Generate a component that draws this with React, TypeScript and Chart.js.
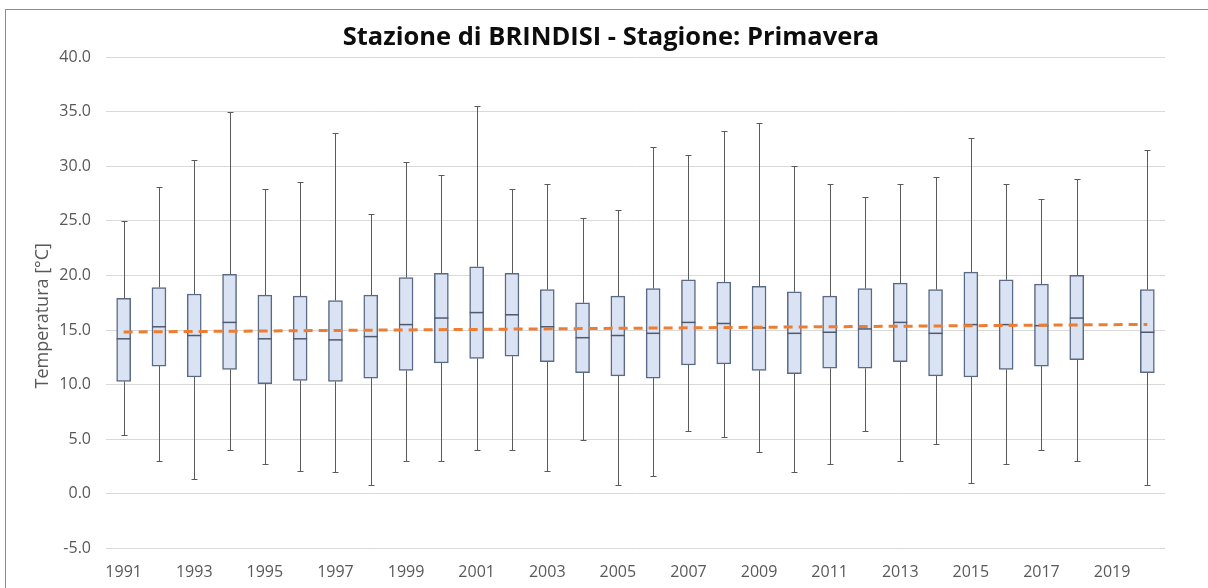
import React, { useEffect, useRef } from "react";
import { Chart, registerables } from "chart.js";

Chart.register(...registerables);

const years = [
  "1991", "1992", "1993", "1994", "1995", "1996", "1997", "1998", "1999", "2000",
  "2001", "2002", "2003", "2004", "2005", "2006", "2007", "2008", "2009", "2010",
  "2011", "2012", "2013", "2014", "2015", "2016", "2017", "2018", "2019", "2020",
];

const minVals = [
  5.4, 3.0, 1.4, 4.0, 2.7, 2.1, 2.0, 0.8, 3.0, 3.0,
  4.0, 4.0, 2.1, 4.9, 0.8, 1.6, 5.8, 5.2, 3.8, 2.0,
  2.7, 5.8, 3.0, 4.6, 1.0, 2.7, 4.0, 3.0, null, 0.8,
];
const q1Vals = [
  10.3, 11.7, 10.7, 11.4, 10.1, 10.4, 10.3, 10.6, 11.3, 12.0,
  12.4, 12.6, 12.1, 11.1, 10.8, 10.6, 11.8, 11.9, 11.3, 11.0,
  11.5, 11.5, 12.1, 10.8, 10.7, 11.4, 11.7, 12.3, null, 11.1,
];
const medianVals = [
  14.2, 15.3, 14.5, 15.7, 14.2, 14.2, 14.1, 14.4, 15.5, 16.1,
  16.6, 16.4, 15.3, 14.3, 14.5, 14.7, 15.7, 15.6, 15.2, 14.7,
  14.8, 15.1, 15.7, 14.7, 15.5, 15.5, 15.4, 16.1, null, 14.8,
];
const q3Vals = [
  17.9, 18.9, 18.3, 20.1, 18.2, 18.1, 17.7, 18.2, 19.8, 20.2,
  20.8, 20.2, 18.7, 17.5, 18.1, 18.8, 19.6, 19.4, 19.0, 18.5,
  18.1, 18.8, 19.3, 18.7, 20.3, 19.6, 19.2, 20.0, null, 18.7,
];
const maxVals = [
  25.0, 28.1, 30.6, 35.0, 27.9, 28.6, 33.0, 25.6, 30.4, 29.2,
  35.5, 27.9, 28.4, 25.3, 26.0, 31.8, 31.0, 33.2, 34.0, 30.0,
  28.4, 27.2, 28.4, 29.0, 32.6, 28.4, 27.0, 28.8, null, 31.5,
];

const trendStart = 14.82;
const trendEnd = 15.52;

const yTicks = [-5, 0, 5, 10, 15, 20, 25, 30, 35, 40];

const TITLE = "Stazione di BRINDISI - Stagione: Primavera";
const Y_TITLE = "Temperatura [°C]";
const BOX_W = 14;
const CAP_W = 6;

const boxPlugin = {
  id: "boxWhiskers",
  beforeDatasetsDraw(chart: any) {
    const { ctx, scales } = chart;
    const x = scales.x;
    const y = scales.y;
    ctx.save();
    ctx.strokeStyle = "#5a5a5a";
    ctx.lineWidth = 1;
    years.forEach((_, i) => {
      const mn = minVals[i];
      const mx = maxVals[i];
      const a = q1Vals[i];
      const b = q3Vals[i];
      if (mn == null || mx == null || a == null || b == null) return;
      const cx = Math.round(x.getPixelForValue(i)) + 0.5;
      const yMin = Math.round(y.getPixelForValue(mn)) + 0.5;
      const yMax = Math.round(y.getPixelForValue(mx)) + 0.5;
      const yQ1 = y.getPixelForValue(a);
      const yQ3 = y.getPixelForValue(b);
      ctx.beginPath();
      ctx.moveTo(cx, yMax);
      ctx.lineTo(cx, yQ3);
      ctx.moveTo(cx, yQ1);
      ctx.lineTo(cx, yMin);
      ctx.moveTo(cx - CAP_W / 2, yMax);
      ctx.lineTo(cx + CAP_W / 2, yMax);
      ctx.moveTo(cx - CAP_W / 2, yMin);
      ctx.lineTo(cx + CAP_W / 2, yMin);
      ctx.stroke();
    });
    ctx.restore();
  },
  afterDatasetDraw(chart: any, args: any) {
    if (args.index !== 1) return;
    const { ctx, scales } = chart;
    const x = scales.x;
    const y = scales.y;
    ctx.save();
    ctx.strokeStyle = "#4d5a70";
    ctx.lineWidth = 1.5;
    years.forEach((_, i) => {
      const m = medianVals[i];
      if (m == null) return;
      const cx = x.getPixelForValue(i);
      const ym = y.getPixelForValue(m);
      ctx.beginPath();
      ctx.moveTo(cx - BOX_W / 2, ym);
      ctx.lineTo(cx + BOX_W / 2, ym);
      ctx.stroke();
    });
    ctx.restore();
  },
  afterDraw(chart: any) {
    const { ctx, chartArea } = chart;
    ctx.save();
    ctx.fillStyle = "#595959";
    ctx.font = "18px 'Open Sans'";
    ctx.textAlign = "center";
    ctx.textBaseline = "middle";
    ctx.translate(37, (chartArea.top + chartArea.bottom) / 2 + 13);
    ctx.rotate(-Math.PI / 2);
    ctx.fillText(Y_TITLE, 0, 0);
    ctx.restore();
  },
};

export default function App() {
  const canvasRef = useRef<HTMLCanvasElement | null>(null);

  useEffect(() => {
    if (!canvasRef.current) return;
    const trendData = years.map((_, i) =>
      i === 0 ? trendStart : i === years.length - 1 ? trendEnd : null
    );
    const boxData = years.map((_, i) =>
      q1Vals[i] == null || q3Vals[i] == null ? null : [q1Vals[i], q3Vals[i]]
    );
    const chart = new Chart(canvasRef.current, {
      type: "bar",
      data: {
        labels: years,
        datasets: [
          {
            type: "line",
            label: "Trend",
            data: trendData as any,
            borderColor: "#ED7D31",
            borderWidth: 3,
            borderDash: [9, 6],
            pointRadius: 0,
            spanGaps: true,
            fill: false,
          } as any,
          {
            type: "bar",
            label: "Box",
            data: boxData as any,
            backgroundColor: "#DAE3F3",
            borderColor: "#5B6A84",
            borderWidth: 1.5,
            borderSkipped: false,
            barThickness: BOX_W,
          } as any,
        ],
      },
      options: {
        animation: false,
        responsive: false,
        maintainAspectRatio: false,
        layout: { padding: { left: 51, right: 51, top: 0, bottom: 0 } },
        plugins: {
          legend: { display: false },
          tooltip: { enabled: false },
          title: {
            display: true,
            text: TITLE,
            color: "#0d0d0d",
            font: { family: "'Open Sans'", size: 25.5, weight: "bold", lineHeight: 1.2 },
            padding: { top: 12.7, bottom: 3.7 },
          },
        },
        scales: {
          x: {
            grid: { display: false, drawTicks: false },
            border: { display: false },
            ticks: {
              autoSkip: false,
              maxRotation: 0,
              minRotation: 0,
              padding: 14,
              color: "#595959",
              font: { family: "'Open Sans'", size: 16 },
              callback: (_v: any, idx: number) => (idx % 2 === 0 ? years[idx] : ""),
            },
            afterFit: (scale: any) => {
              scale.height = 61.5;
            },
          },
          y: {
            min: yTicks[0],
            max: yTicks[yTicks.length - 1],
            afterBuildTicks: (scale: any) => {
              scale.ticks = yTicks.map((v) => ({ value: v }));
            },
            grid: { color: "#D9D9D9", lineWidth: 1, drawTicks: false },
            border: { display: false },
            ticks: {
              padding: 15,
              color: "#595959",
              font: { family: "'Open Sans'", size: 16 },
              callback: (v: any) => Number(v).toFixed(1),
            },
            afterFit: (scale: any) => {
              scale.width = 49;
            },
          },
        },
      },
      plugins: [boxPlugin],
    });
    return () => chart.destroy();
  }, []);

  return (
    <div
      style={{
        position: "fixed",
        left: 0,
        top: 0,
        width: 1208,
        height: 588,
        overflow: "hidden",
        background: "#ffffff",
      }}
    >
      <div
        style={{
          position: "absolute",
          left: 5,
          top: 9,
          width: 1210,
          height: 600,
          borderLeft: "1px solid #8c8c8c",
          borderTop: "1px solid #8c8c8c",
        }}
      >
        <canvas
          ref={canvasRef}
          width={1210}
          height={600}
          style={{ display: "block", width: 1210, height: 600 }}
        />
      </div>
    </div>
  );
}
